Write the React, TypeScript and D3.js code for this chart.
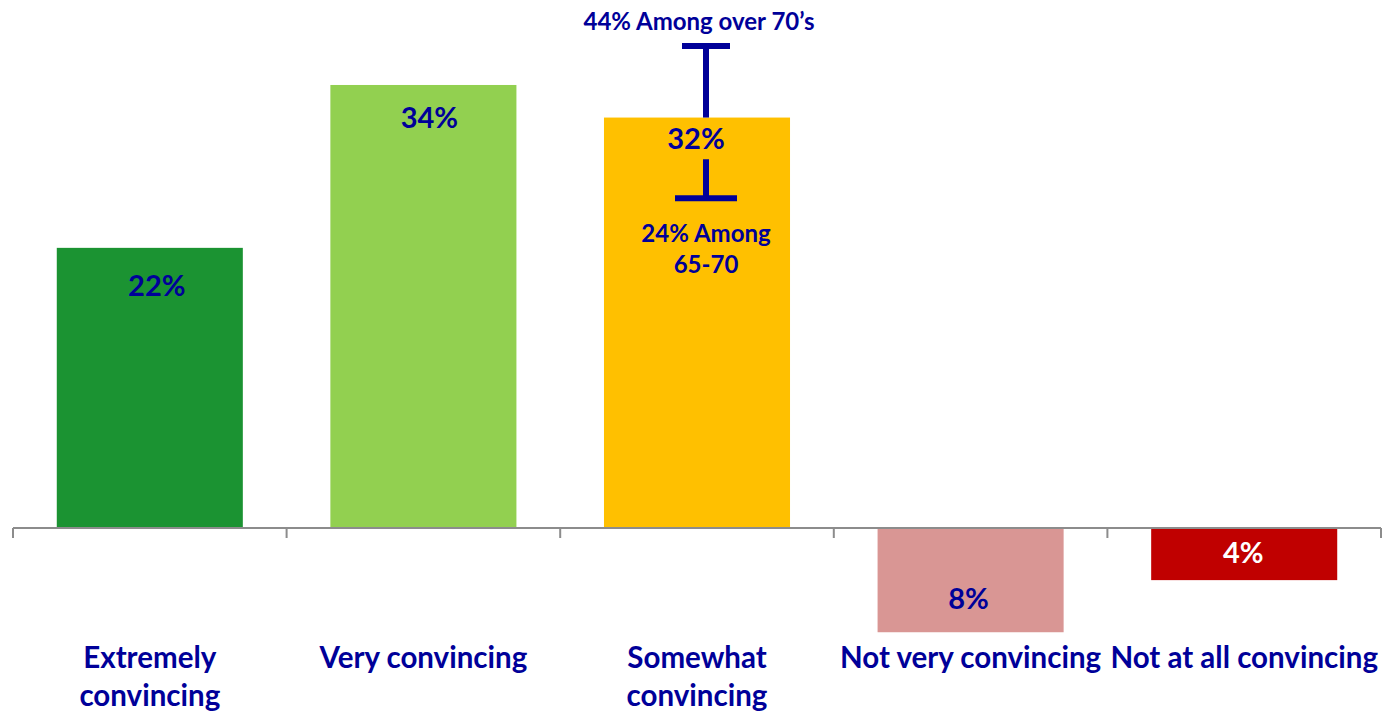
import React from "react";
import * as d3 from "d3";

const categories = ["Extremely convincing", "Very convincing", "Somewhat convincing", "Not very convincing", "Not at all convincing"];
const categoryLines = [["Extremely", "convincing"], ["Very convincing"], ["Somewhat", "convincing"], ["Not very convincing"], ["Not at all convincing"]];
const values = [21.5, 34, 31.5, -8, -4];
const valueLabels = ["22%", "34%", "32%", "8%", "4%"];
const barColors = ["#1b9332", "#92d050", "#ffc000", "#d99694", "#c00000"];
const labelColors = ["#000099", "#000099", "#000099", "#000099", "#ffffff"];
// annotation on "Somewhat convincing" (in % units)
const annotHigh = 37;
const annotLowStart = 28.3;
const annotLow = 25.3;
const annotHighText = "44% Among over 70\u2019s";
const annotLowText = ["24% Among", "65-70"];

const W = 1384;
const H = 713;
const NAVY = "#000099";
const FONT = "Lato, 'Open Sans', sans-serif";

export default function App() {
  const x = d3.scaleBand<string>().domain(categories).range([13, 1381]).paddingInner(0.32).paddingOuter(0.16);
  const band = d3.scaleBand<string>().domain(categories).range([13, 1381]);
  const y = d3.scaleLinear().domain([0, 40]).range([528, 528 - 13.03 * 40]);
  const labelOffsets = [48, 43, 31, 0, 0];
  const labelDx = [7, 6, -1, -2, -1];

  const ticks = [...categories.map((c) => band(c)!), 1381];
  const cx = x(categories[2])! + x.bandwidth() / 2 + 9;

  return (
    <svg width={W} height={H} style={{ position: "absolute", left: 0, top: 0, display: "block" }} fontFamily={FONT}>
      <rect width={W} height={H} fill="#fff" />
      {categories.map((c, i) => {
        const v = values[i];
        const y0 = y(Math.max(0, v));
        const y1 = y(Math.min(0, v));
        return <rect key={c} x={x(c)} y={y0} width={x.bandwidth()} height={y1 - y0} fill={barColors[i]} />;
      })}
      <line x1={13} x2={1381} y1={y(0)} y2={y(0)} stroke="#8c8c8c" strokeWidth={2} />
      {ticks.map((t, i) => (
        <line key={i} x1={t} x2={t} y1={y(0)} y2={y(0) + 10} stroke="#8c8c8c" strokeWidth={2} />
      ))}
      {categories.map((c, i) => {
        const v = values[i];
        const mid = x(c)! + x.bandwidth() / 2;
        let ly: number;
        if (v >= 0) ly = y(v) + labelOffsets[i];
        else if (i === 3) ly = y(v) - 23;
        else ly = y(0) + 35;
        return (
          <text key={c} x={mid + labelDx[i]} y={ly} textAnchor="middle" fontSize={29} fontWeight={700} fill={labelColors[i]}>
            {valueLabels[i]}
          </text>
        );
      })}
      {categories.map((c, i) => {
        const mid = band(c)! + band.bandwidth() / 2;
        return (
          <text key={c} x={mid} textAnchor="middle" fontSize={29.5} fontWeight={700} fill={NAVY}>
            {categoryLines[i].map((l, j) => (
              <tspan key={j} x={mid} y={668 + j * 38}>
                {l}
              </tspan>
            ))}
          </text>
        );
      })}
      {/* annotation whiskers */}
      <line x1={cx} x2={cx} y1={y(values[2])} y2={y(annotHigh)} stroke={NAVY} strokeWidth={6} />
      <line x1={cx - 24} x2={cx + 24} y1={y(annotHigh)} y2={y(annotHigh)} stroke={NAVY} strokeWidth={6} />
      <line x1={cx} x2={cx} y1={y(annotLowStart)} y2={y(annotLow)} stroke={NAVY} strokeWidth={6} />
      <line x1={cx - 31} x2={cx + 31} y1={y(annotLow)} y2={y(annotLow)} stroke={NAVY} strokeWidth={6} />
      <text x={cx - 7} y={y(annotHigh) - 16} textAnchor="middle" fontSize={24} fontWeight={700} fill={NAVY}>
        {annotHighText}
      </text>
      <text textAnchor="middle" fontSize={24} fontWeight={700} fill={NAVY}>
        {annotLowText.map((l, j) => (
          <tspan key={j} x={cx} y={y(annotLow) + 44 + j * 31}>
            {l}
          </tspan>
        ))}
      </text>
    </svg>
  );
}
